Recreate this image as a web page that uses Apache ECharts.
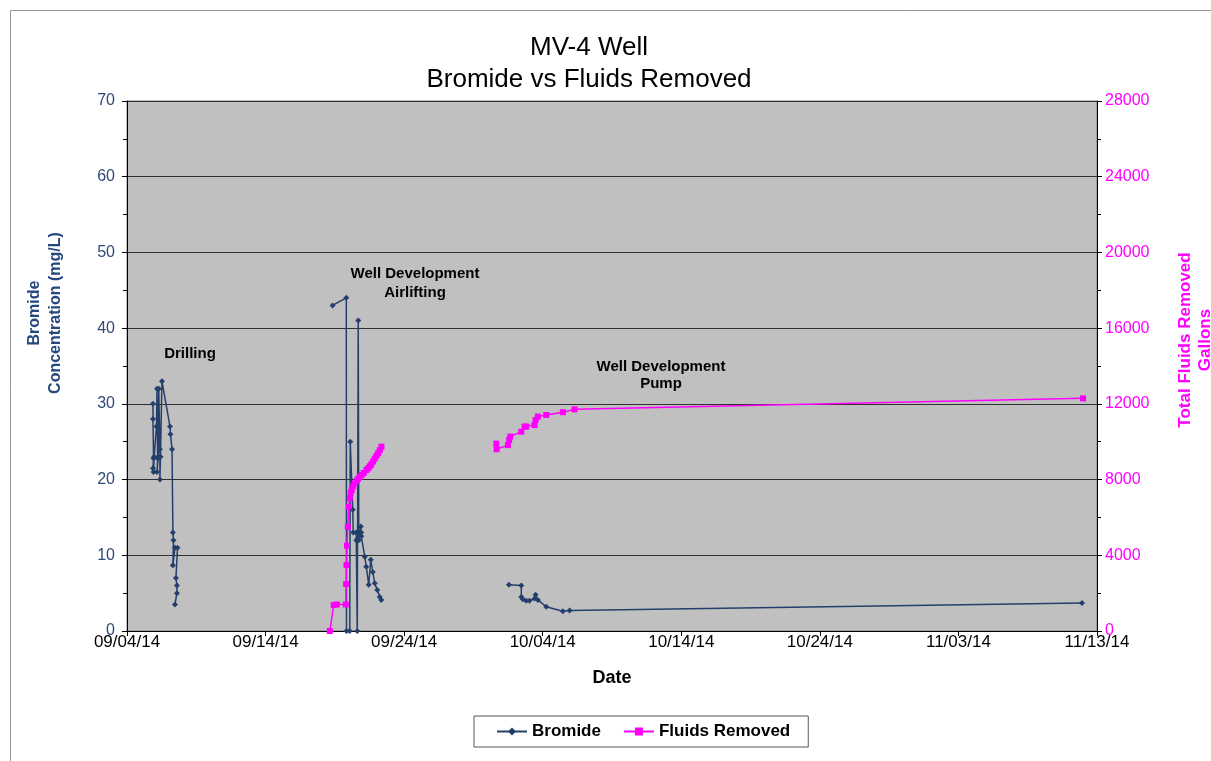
<!DOCTYPE html>
<html><head><meta charset="utf-8">
<script src="https://cdn.jsdelivr.net/npm/echarts@6/dist/echarts.min.js"></script>
<style>html,body{margin:0;padding:0;background:#fff}#c{width:1211px;height:761px}</style>
</head><body><div id="c"></div>
<script>
// ---- data (dates are MM/DD HH:mm in 2014) ----
const xTickLabels = ['09/04/14','09/14/14','09/24/14','10/04/14','10/14/14','10/24/14','11/03/14','11/13/14'];

const drillTimes = ['09/05 21:00','09/05 21:00','09/05 22:00','09/05 21:00','09/05 22:00','09/05 23:00','09/06 03:00','09/06 04:00','09/06 05:00','09/06 04:00','09/06 06:00','09/06 07:00','09/06 09:00','09/06 09:00','09/06 10:00','09/06 12:30','09/07 02:30','09/07 03:15','09/07 06:00','09/07 07:30','09/07 08:30','09/07 07:30','09/07 11:00','09/07 15:30','09/07 12:45','09/07 14:30','09/07 14:30','09/07 11:00'];
const drillBromide = [30,28,22.8,21.5,21,23,27,32,22.8,21,23,32,24,20,23,33,27,26,24,13,12,8.7,11,11,7,6,5,3.5];

const airTimes = ['09/18 20:00','09/19 19:48','09/19 20:10','09/20 01:50','09/20 02:40','09/20 07:00','09/20 07:50','09/20 13:05','09/20 13:05','09/20 14:50','09/20 16:30','09/20 17:25','09/20 20:55','09/20 21:40','09/20 21:40','09/21 03:50','09/21 06:25','09/21 10:40','09/21 14:10','09/21 17:40','09/21 21:05','09/22 01:30','09/22 05:45','09/22 08:25'];
const airBromide = [43,44,0,0,25,16,13,13,12,0,41,12,13.8,13,12.5,9.8,8.5,6.1,9.4,7.8,6.3,5.4,4.5,4.1];

const pumpTimes = ['10/01 13:30','10/02 10:55','10/02 10:55','10/02 13:40','10/02 19:30','10/03 01:10','10/03 09:50','10/03 11:40','10/03 15:35','10/04 06:10','10/05 10:55','10/05 22:35','11/11 22:00'];
const pumpBromide = [6.1,6.0,4.5,4.2,4.0,4.0,4.3,4.8,4.1,3.2,2.6,2.7,3.7];

const airFluidTimes = ['09/18 15:15','09/18 22:00','09/19 03:20','09/19 19:00','09/19 19:30','09/19 20:10','09/19 21:00','09/19 22:20','09/20 00:00','09/20 01:50','09/20 03:30','09/20 05:15','09/20 07:50','09/20 10:30','09/20 14:00','09/20 16:30','09/20 19:10','09/20 22:35','09/21 02:05','09/21 06:45','09/21 09:50','09/21 12:25','09/21 15:05','09/21 18:10','09/21 21:05','09/22 00:05','09/22 02:50','09/22 05:45','09/22 08:40'];
const airFluids = [0,1370,1400,1400,2480,3490,4510,5510,6570,7010,7300,7450,7650,7800,7950,8050,8150,8250,8350,8510,8600,8700,8800,8950,9100,9250,9390,9550,9740];

const pumpFluidTimes = ['09/30 15:40','09/30 16:10','10/01 11:45','10/01 13:50','10/01 15:50','10/02 10:55','10/02 16:35','10/02 19:30','10/03 09:50','10/03 11:40','10/03 15:35','10/04 06:10','10/05 10:55','10/06 07:10','11/11 23:50'];
const pumpFluids = [9900,9600,9820,10090,10270,10530,10800,10800,10880,11150,11330,11410,11560,11710,12290];

// ---- helpers ----
const T0 = Date.UTC(2014, 8, 4);
function dayOffset(s) {
  const [md, hm] = s.split(' ');
  const [m, d] = md.split('/').map(Number);
  const [h, mi] = hm.split(':').map(Number);
  return (Date.UTC(2014, m - 1, d, h, mi) - T0) / 86400000;
}
const pairs = (ts, vs) => ts.map((t, i) => [dayOffset(t), vs[i]]);

const BLUE = '#243F6B', PINK = '#FF00FF', FONT = 'Liberation Sans, Arial, sans-serif';
const bromStyle = (data) => ({
  name: 'Bromide', type: 'line', yAxisIndex: 0, data,
  symbol: 'diamond', symbolSize: 6, showSymbol: true,
  lineStyle: { color: BLUE, width: 1.5 }, itemStyle: { color: BLUE },
  emphasis: { disabled: true }, animation: false, z: 2
});
const fluidStyle = (data) => ({
  name: 'Fluids Removed', type: 'line', yAxisIndex: 1, data,
  symbol: 'rect', symbolSize: 6, showSymbol: true,
  lineStyle: { color: PINK, width: 1.5 }, itemStyle: { color: PINK },
  emphasis: { disabled: true }, animation: false, z: 3
});

const chart = echarts.init(document.getElementById('c'), null, { renderer: 'canvas' });
chart.setOption({
  animation: false,
  textStyle: { fontFamily: FONT },
  grid: { left: 127, right: 114, top: 101, bottom: 130, show: true, backgroundColor: '#C0C0C0', borderColor: '#808080', borderWidth: 1 },
  legend: {
    data: ['Bromide', 'Fluids Removed'],
    left: 474, top: 716,
    padding: [7, 18, 7, 22], itemGap: 22, itemWidth: 30, itemHeight: 10,
    backgroundColor: '#fff', borderColor: '#555', borderWidth: 1, borderRadius: 0,
    textStyle: { fontFamily: FONT, fontSize: 17, fontWeight: 'bold', color: '#000' },
    selectedMode: false
  },
  xAxis: {
    type: 'value', min: 0, max: 70, interval: 10,
    axisLine: { show: true, lineStyle: { color: '#000', width: 1 } },
    axisTick: { show: true, inside: false, length: 5, lineStyle: { color: '#000' } },
    axisLabel: { margin: 3, fontSize: 17, color: '#000', fontFamily: FONT, formatter: v => xTickLabels[Math.round(v / 10)] },
    splitLine: { show: false },
    name: 'Date', nameLocation: 'middle', nameGap: 38,
    nameTextStyle: { fontSize: 18, fontWeight: 'bold', color: '#000', fontFamily: FONT }
  },
  yAxis: [{
    type: 'value', min: 0, max: 70, interval: 10, position: 'left',
    axisLine: { show: true, lineStyle: { color: '#000' } },
    axisTick: { show: true, length: 5, lineStyle: { color: '#000' } },
    minorTick: { show: true, splitNumber: 2, length: 4, lineStyle: { color: '#000' } },
    axisLabel: { margin: 12, fontSize: 16, color: '#2F4A7A', fontFamily: FONT },
    splitLine: { show: true, lineStyle: { color: '#303030', width: 1 } }
  }, {
    type: 'value', min: 0, max: 28000, interval: 4000, position: 'right',
    axisLine: { show: true, lineStyle: { color: '#000' } },
    axisTick: { show: true, length: 5, lineStyle: { color: '#000' } },
    minorTick: { show: true, splitNumber: 2, length: 4, lineStyle: { color: '#000' } },
    axisLabel: { margin: 8, fontSize: 16, color: PINK, fontFamily: FONT, formatter: v => String(v) },
    splitLine: { show: false }
  }],
  series: [
    bromStyle(pairs(drillTimes, drillBromide)),
    bromStyle(pairs(airTimes, airBromide)),
    bromStyle(pairs(pumpTimes, pumpBromide)),
    fluidStyle(pairs(airFluidTimes, airFluids)),
    fluidStyle(pairs(pumpFluidTimes, pumpFluids))
  ],
  graphic: [
    { type: 'rect', silent: true, z: -10, shape: { x: 10.5, y: 10.5, width: 1400, height: 900 }, style: { fill: 'none', stroke: '#999', lineWidth: 1 } },
    { type: 'text', silent: true, x: 589, y: 64, style: { text: 'MV-4 Well\nBromide vs Fluids Removed', align: 'center', verticalAlign: 'middle', fontSize: 26, lineHeight: 32, fontFamily: FONT, fill: '#000' } },
    { type: 'text', silent: true, x: 190, y: 354, style: { text: 'Drilling', align: 'center', verticalAlign: 'middle', fontSize: 15, fontWeight: 'bold', fontFamily: FONT, fill: '#000' } },
    { type: 'text', silent: true, x: 415, y: 283.5, style: { text: 'Well Development\nAirlifting', align: 'center', verticalAlign: 'middle', fontSize: 15, lineHeight: 19, fontWeight: 'bold', fontFamily: FONT, fill: '#000' } },
    { type: 'text', silent: true, x: 661, y: 375.5, style: { text: 'Well Development\nPump', align: 'center', verticalAlign: 'middle', fontSize: 15, lineHeight: 17, fontWeight: 'bold', fontFamily: FONT, fill: '#000' } },
    { type: 'text', silent: true, x: 45.5, y: 313, rotation: Math.PI / 2, style: { text: 'Bromide\nConcentration (mg/L)', align: 'center', verticalAlign: 'middle', fontSize: 16, lineHeight: 21, fontWeight: 'bold', fontFamily: FONT, fill: '#25487F' } },
    { type: 'text', silent: true, x: 1195, y: 340, rotation: Math.PI / 2, style: { text: 'Total Fluids Removed\nGallons', align: 'center', verticalAlign: 'middle', fontSize: 17, lineHeight: 20, fontWeight: 'bold', fontFamily: FONT, fill: PINK } }
  ]
});
</script></body></html>
